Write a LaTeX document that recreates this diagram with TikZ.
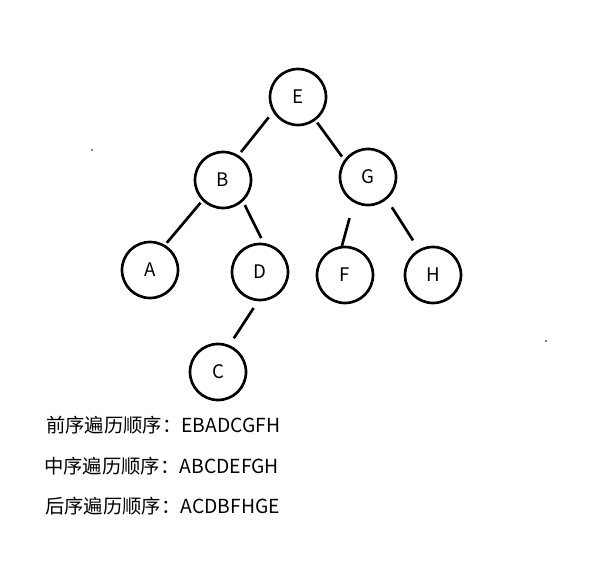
\documentclass[tikz,border=0pt]{standalone}
\usepackage{fontspec}
\usepackage{xcolor}
\setmainfont{Noto Sans CJK SC}
\newfontfamily\cjk{Noto Sans CJK SC}
\usetikzlibrary{positioning}
\definecolor{ink}{HTML}{000000}

\begin{document}
\begin{tikzpicture}[
        x=0.75pt, y=-0.75pt,
        treenode/.style={
            circle,
            draw=ink,
            line width=2pt,
            minimum size=42pt,
            inner sep=0pt,
            font=\cjk\fontsize{14}{14}\selectfont
        },
        link/.style={
            line width=2pt,
            color=ink
        },
        caption/.style={
            anchor=west,
            inner sep=0pt,
            font=\cjk\fontsize{14.5}{14.5}\selectfont
        }
    ]
        \useasboundingbox (0,0) rectangle (609,577);
        \node[treenode] (E) at (298,97) {E};
        \node[treenode] (B) at (223,180) {B};
        \node[treenode] (G) at (368,177) {G};
        \node[treenode] (A) at (150,270) {A};
        \node[treenode] (D) at (260,272) {D};
        \node[treenode] (F) at (345,275) {F};
        \node[treenode] (H) at (433,275) {H};
        \node[treenode] (C) at (218,372) {C};

        % hand-drawn edges, leaving small gaps at the circles
        \draw[link, shorten <=5pt, shorten >=3pt] (E.-149) -- (B.58);
        \draw[link, shorten <=2pt, shorten >=3pt] (E.-53) -- (G.144);
        \draw[link, shorten <=2pt, shorten >=2pt] (B.-135) -- (A.59);
        \draw[link, shorten <=3pt, shorten >=4pt] (B.-47) -- (D.83);
        \draw[link, shorten <=12pt, shorten >=0pt] (G.-119) -- (F.96);
        \draw[link, shorten <=7pt, shorten >=8pt] (G.-50) -- (H.119);
        \draw[link, shorten <=6pt, shorten >=6pt] (D.-94) -- (C.67);

        % stray specks
        \fill[ink] (92,150) circle (0.6pt);
        \fill[ink] (546,341) circle (0.6pt);

        \node[caption] (pre) at (46,425) {前序遍历顺序：EBADCGFH};
        \node[caption] (in) at (44,466) {中序遍历顺序：ABCDEFGH};
        \node[caption] (post) at (45,506) {后序遍历顺序：ACDBFHGE};
    \end{tikzpicture}
\end{document}
